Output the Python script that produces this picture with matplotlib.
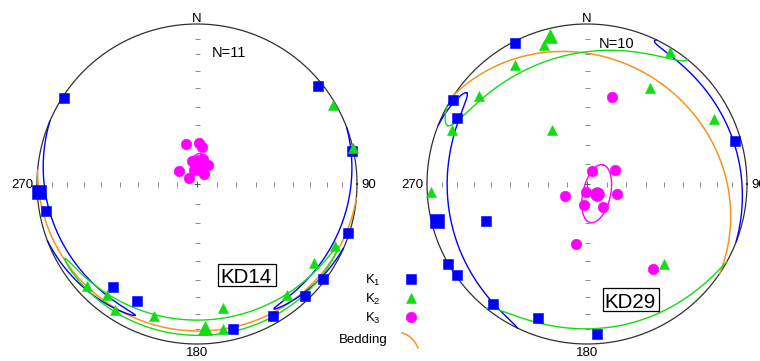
import numpy as np
import matplotlib.pyplot as plt
from matplotlib.patches import Rectangle

plt.rcParams['font.family'] = ['Liberation Sans', 'DejaVu Sans']
plt.rcParams['mathtext.fontset'] = 'custom'
plt.rcParams['mathtext.rm'] = 'Liberation Sans'

# AMS principal axes of each specimen, trend / plunge in degrees
kd14_k1_trend = [303, 51, 78, 260, 108, 127, 136, 150, 166, 219, 207]
kd14_k1_plunge = [1, 3, 1, 5, 1, 2, 3, 5, 7, 18, 19]
kd14_k2_trend = [60, 77, 114, 124, 141, 168, 170, 198, 213, 219, 227]
kd14_k2_plunge = [2, 0, 6, 13, 12, 22, 9, 14, 7, 12, 7]
kd14_k3_trend = [345, 3, 8, 306, 307, 34, 30, 348, 14, 348, 8]
kd14_k3_plunge = [69, 69, 71, 79, 85, 84, 79, 83, 77, 78, 83]

kd29_k1_trend = [333, 302, 297, 74, 250, 240, 235, 218, 200, 176]
kd29_k1_plunge = [1, 1, 10, 4, 33, 0, 1, 5, 12, 7]
kd29_k2_trend = [343, 329, 309, 292, 327, 33, 63, 32, 267, 136]
kd29_k2_plunge = [10, 14, 14, 10, 57, 29, 12, 3, 3, 31]
kd29_k3_trend = [16, 21, 63, 241, 188, 109, 188, 145, 190, 142]
kd29_k3_plunge = [43, 83, 74, 77, 86, 74, 79, 76, 59, 33]

# site mean axes (K1, K2, K3) and their confidence ellipses
kd14_mean_trend = [267, 177, 3]
kd14_mean_plunge = [1, 11, 79]
kd14_ell_major = [62, 63, 4.5]
kd14_ell_minor = [4.5, 5, 3.5]
kd14_ell_axis_trend = [177, 267, 20]
kd14_ell_axis_plunge = [11, 1, 0]

kd29_mean_trend = [256, 346, 135]
kd29_mean_plunge = [4, 5, 83]
kd29_ell_major = [51, 53, 15]
kd29_ell_minor = [9, 15, 7]
kd29_ell_axis_trend = [346, 256, 12]
kd29_ell_axis_plunge = [5, 4, 0]

# bedding: dip direction, dip
kd14_bedding = (185, 9)
kd29_bedding = (34, 23)

TICK_PLUNGES = np.arange(10, 90, 10)

COLORS = ['#0000ff', '#12dc12', '#ff00ff']
MARKERS = ['s', '^', 'o']
SIZES = [7.3, 7.6, 7.6]
MEAN_SIZES = [10.5, 10.5, 10]
BEDDING_COLOR = '#f7941d'

FIG_W, FIG_H = 760, 361
R_PX = 160      # primitive radius in pixels
NET_CY = 184    # net centre, pixels from the top
U = 1 / R_PX    # one pixel in net units


def to_vec(trend, plunge):
    t = np.radians(np.asarray(trend, float))
    p = np.radians(np.asarray(plunge, float))
    return np.array([np.cos(p) * np.cos(t), np.cos(p) * np.sin(t), np.sin(p)])


def schmidt(v):
    """Lower-hemisphere equal-area projection of (north, east, down) vectors."""
    n, e, d = v
    s = 1 / np.sqrt(1 + d)
    return e * s, n * s


def cone(mt, mp, at, ap, e_major, e_minor, n=1441):
    m = to_vec(mt, mp)
    a = to_vec(at, ap)
    a = a - a.dot(m) * m
    a /= np.linalg.norm(a)
    b = np.cross(m, a)
    e1, e2 = np.radians(e_major), np.radians(e_minor)
    phi = np.linspace(0, 2 * np.pi, n)
    th = e1 * e2 / np.hypot(e2 * np.cos(phi), e1 * np.sin(phi))
    v = (np.cos(th) * m[:, None]
         + np.sin(th) * (np.cos(phi) * a[:, None] + np.sin(phi) * b[:, None]))
    # parts above the horizon come back through the antipode
    up = v[2] < 0
    v[:, up] *= -1
    x, y = schmidt(v)
    cut = np.nonzero(np.diff(up.astype(int)))[0] + 1
    return np.insert(x, cut, np.nan), np.insert(y, cut, np.nan)


def great_circle(dip_dir, dip):
    t = np.linspace(0, np.pi, 361)
    s = to_vec(dip_dir - 90, 0)
    d = to_vec(dip_dir, dip)
    v = np.outer(s, np.cos(t)) + np.outer(d, np.sin(t))
    return schmidt(v)


def make_net(fig, cx):
    half = 190
    ax = fig.add_axes([(cx - half) / FIG_W, 0, 2 * half / FIG_W, 1])
    ax.set_xlim(-half * U, half * U)
    ax.set_ylim(-(FIG_H - NET_CY) * U, NET_CY * U)
    ax.axis('off')

    phi = np.linspace(0, 2 * np.pi, 721)
    ax.plot(np.cos(phi), np.sin(phi), color='#303030', lw=0.9, zorder=1)
    rho = schmidt(to_vec(np.zeros(len(TICK_PLUNGES)), TICK_PLUNGES))[1]
    ax.plot(np.r_[rho, -rho], np.zeros(2 * len(rho)), ls='none', marker='|',
            ms=3.6, mew=0.7, color='#8c8c8c', zorder=1)
    ax.plot(np.zeros(2 * len(rho)), np.r_[rho, -rho], ls='none', marker='_',
            ms=3.6, mew=0.7, color='#8c8c8c', zorder=1)
    ax.plot(0, 0, marker='+', ms=5, mew=0.7, color='#555555', zorder=1)

    ax.text(0, 1 + 2 * U, 'N', ha='center', va='baseline', fontsize=9.5)
    ax.text(-1 - 4 * U, -4 * U, '270', ha='right', va='baseline', fontsize=9.5)
    ax.text(1 + 4 * U, -4 * U, '90', ha='left', va='baseline', fontsize=9.5)
    ax.text(0, -169 * U, '180', ha='center', va='center', fontsize=9.5)
    return ax


def draw_site(ax, trends, plunges, mean_t, mean_p, major, minor, axis_t, axis_p,
              bedding):
    bx, by = great_circle(*bedding)
    ax.plot(bx, by, color=BEDDING_COLOR, lw=1.1, zorder=2)

    for i in range(3):
        ex, ey = cone(mean_t[i], mean_p[i], axis_t[i], axis_p[i], major[i], minor[i])
        ax.plot(ex, ey, color=COLORS[i], lw=1.0, zorder=2)

    for i in range(3):
        px, py = schmidt(to_vec(trends[i], plunges[i]))
        ax.plot(px, py, ls='none', marker=MARKERS[i], ms=SIZES[i], color=COLORS[i],
                mec=COLORS[i], mew=0.4, zorder=3)
        mx, my = schmidt(to_vec(mean_t[i], mean_p[i]))
        ax.plot(mx, my, ls='none', marker=MARKERS[i], ms=MEAN_SIZES[i],
                color=COLORS[i], mec=COLORS[i], mew=0.4, zorder=4)


def site_labels(ax, cx, n_text, n_xy, name, name_xy, box):
    def net(X, Y):
        return (X - cx) * U, (NET_CY - Y) * U

    ax.text(*net(*n_xy), n_text, ha='left', va='baseline', fontsize=10.5)
    ax.text(*net(*name_xy), name, ha='center', va='baseline', fontsize=14.8, zorder=6)
    x0, y0 = net(box[0], box[3])
    ax.add_patch(Rectangle((x0, y0), (box[2] - box[0]) * U, (box[3] - box[1]) * U,
                           fc='white', ec='black', lw=0.9, zorder=5))


fig = plt.figure(figsize=(FIG_W / 100, FIG_H / 100), dpi=100)

ax14 = make_net(fig, 197)
draw_site(ax14,
          [kd14_k1_trend, kd14_k2_trend, kd14_k3_trend],
          [kd14_k1_plunge, kd14_k2_plunge, kd14_k3_plunge],
          kd14_mean_trend, kd14_mean_plunge, kd14_ell_major, kd14_ell_minor,
          kd14_ell_axis_trend, kd14_ell_axis_plunge, kd14_bedding)
site_labels(ax14, 197, f'N={len(kd14_k1_trend)}', (212, 57),
            'KD14', (246.5, 283), (218, 264, 276, 286))

ax29 = make_net(fig, 587)
draw_site(ax29,
          [kd29_k1_trend, kd29_k2_trend, kd29_k3_trend],
          [kd29_k1_plunge, kd29_k2_plunge, kd29_k3_plunge],
          kd29_mean_trend, kd29_mean_plunge, kd29_ell_major, kd29_ell_minor,
          kd29_ell_axis_trend, kd29_ell_axis_plunge, kd29_bedding)
site_labels(ax29, 587, f'N={len(kd29_k1_trend)}', (599, 48.5),
            'KD29', (630.5, 308), (603, 288, 659, 311))

# legend between the two nets, in pixel units
lg = fig.add_axes([0, 0, 1, 1])
lg.set_xlim(0, FIG_W)
lg.set_ylim(FIG_H, 0)
lg.axis('off')
rows = [279, 298, 317]
for i, lab in enumerate(['K$_1$', 'K$_2$', 'K$_3$']):
    lg.text(381, rows[i] + 5, lab, ha='right', va='baseline', fontsize=9.5)
    lg.plot(411, rows[i], ls='none', marker=MARKERS[i], ms=SIZES[i],
            color=COLORS[i], mec=COLORS[i], mew=0.4)
lg.text(339, 343, 'Bedding', ha='left', va='baseline', fontsize=9.5)
t = np.linspace(0, 1, 30)
arc_x = (1 - t) ** 2 * 402 + 2 * (1 - t) * t * 413 + t ** 2 * 418
arc_y = (1 - t) ** 2 * 333 + 2 * (1 - t) * t * 336 + t ** 2 * 348
lg.plot(arc_x, arc_y, color=BEDDING_COLOR, lw=1.1)

fig.savefig('out.png', dpi=100)
